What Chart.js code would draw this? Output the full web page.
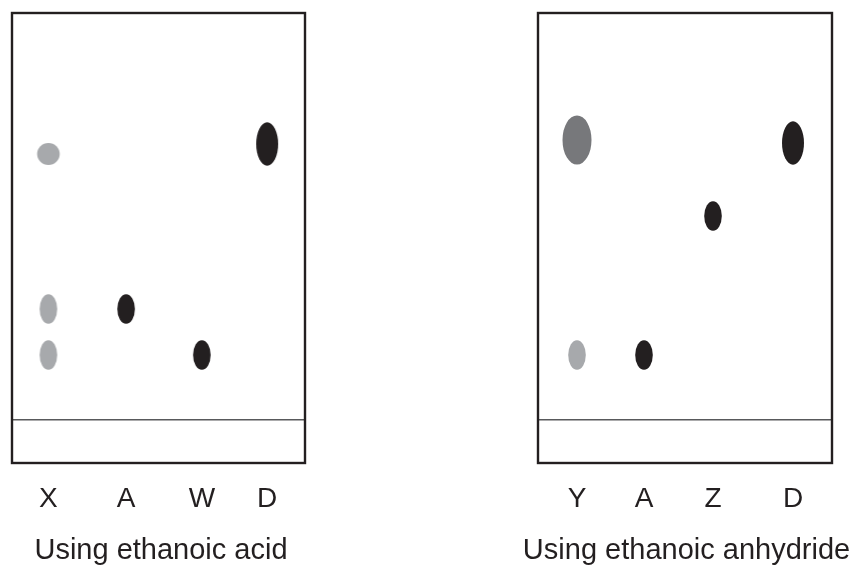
<!DOCTYPE html>
<html lang="en">
<head>
  <meta charset="UTF-8" />
  <title>Chromatograms</title>
  <script src="https://cdn.jsdelivr.net/npm/chart.js"></script>
  <style>
    body { margin: 0; background: #fff; }
    #wrap { position: relative; width: 853px; height: 567px; }
    #acid { position: absolute; left: 0; top: 0; }
    #anhydride { position: absolute; left: 520px; top: 0; }
  </style>
</head>
<body>
  <div id="wrap">
    <canvas id="acid" width="322" height="567"></canvas>
    <canvas id="anhydride" width="333" height="567"></canvas>
  </div>

  <script>
    // lane labels and their positions across the plate (plate is 0..29.4 wide)
    const acidLanes = ['X', 'A', 'W', 'D'];
    const acidLanePos = [3.65, 11.45, 19.05, 25.6];
    const anhLanes = ['Y', 'A', 'Z', 'D'];
    const anhLanePos = [3.9, 10.6, 17.5, 25.5];

    // spots: which lane, distance moved above the baseline
    const acidSpotLane = [0, 0, 0, 1, 2, 3];
    const acidSpotDist = [26.6, 11.1, 6.5, 11.1, 6.5, 27.6];
    const acidSpotKind = ['greyRound', 'greySmall', 'greySmall', 'blackSmall', 'blackSmall', 'blackLarge'];

    const anhSpotLane = [0, 0, 1, 2, 3];
    const anhSpotDist = [28.0, 6.5, 6.5, 20.4, 27.7];
    const anhSpotKind = ['darkLarge', 'greySmall', 'blackSmall', 'blackSmall', 'blackLarge'];

    const baseline = 0;

    const INK = '#231f20';
    const FONT = '"Liberation Sans", Arial, Helvetica, sans-serif';

    // ellipse images used as point styles
    function spot(rx, ry, color) {
      const c = document.createElement('canvas');
      c.width = 2 * Math.ceil(rx) + 2;
      c.height = 2 * Math.ceil(ry) + 2;
      const g = c.getContext('2d');
      g.fillStyle = color;
      g.beginPath();
      g.ellipse(c.width / 2, c.height / 2, rx, ry, 0, 0, Math.PI * 2);
      g.fill();
      return c;
    }
    const spotStyles = {
      greyRound: spot(11.3, 11, '#a7a9ac'),
      greySmall: spot(8.8, 14.8, '#a7a9ac'),
      blackSmall: spot(8.8, 14.8, INK),
      blackLarge: spot(11, 21.7, INK),
      darkLarge: spot(14.5, 24.5, '#77787b')
    };

    const plateFrame = {
      id: 'plateFrame',
      afterDraw(chart) {
        const { ctx, chartArea: a } = chart;
        ctx.save();
        ctx.strokeStyle = INK;
        ctx.lineWidth = 2.4;
        ctx.strokeRect(a.left, a.top, a.right - a.left, a.bottom - a.top);
        ctx.restore();
      }
    };

    // gapL / gapR: blank space either side of the plate inside the canvas
    function makePlate(id, lanes, lanePos, spotLane, spotDist, spotKind, title, gapL, gapR) {
      const pts = spotLane.map((l, i) => ({ x: lanePos[l], y: spotDist[i] }));
      return new Chart(document.getElementById(id), {
        type: 'scatter',
        data: {
          datasets: [{
            data: pts,
            pointStyle: spotKind.map(k => spotStyles[k]),
            pointRadius: 10
          }]
        },
        options: {
          responsive: false,
          animation: false,
          events: [],
          layout: { padding: { left: 0, right: 0, top: 13, bottom: 0 } },
          plugins: {
            legend: { display: false },
            tooltip: { enabled: false },
            title: {
              display: true, position: 'bottom', text: title, color: INK,
              font: { family: FONT, size: 29, weight: 'normal', lineHeight: 1 },
              padding: { top: 0, bottom: 1.5 }
            }
          },
          scales: {
            x: {
              type: 'linear', min: 0, max: 29.4,
              grid: { display: false, drawTicks: false },
              border: { display: false },
              afterBuildTicks: s => { s.ticks = lanePos.map(v => ({ value: v })); },
              afterFit: s => { s.height = 73.5; },
              ticks: {
                autoSkip: false, maxRotation: 0, padding: 22.5, color: INK,
                font: { family: FONT, size: 28, lineHeight: 1 },
                callback: (v, i) => lanes[i]
              }
            },
            y: {
              type: 'linear', min: -4.3, max: 40.7,
              border: { display: false },
              afterBuildTicks: s => { s.ticks = [{ value: baseline }]; },
              afterFit: s => { s.width = gapL; },
              ticks: { display: false },
              grid: { drawTicks: false, color: '#58595b', lineWidth: 1.4 }
            },
            yr: {
              type: 'linear', position: 'right', min: 0, max: 1,
              border: { display: false },
              grid: { display: false, drawTicks: false },
              ticks: { display: false },
              afterFit: s => { s.width = gapR; }
            }
          }
        },
        plugins: [plateFrame]
      });
    }

    makePlate('acid', acidLanes, acidLanePos, acidSpotLane, acidSpotDist, acidSpotKind,
      'Using ethanoic acid', 12, 17);
    makePlate('anhydride', anhLanes, anhLanePos, anhSpotLane, anhSpotDist, anhSpotKind,
      'Using ethanoic anhydride', 18, 21);
  </script>
</body>
</html>
